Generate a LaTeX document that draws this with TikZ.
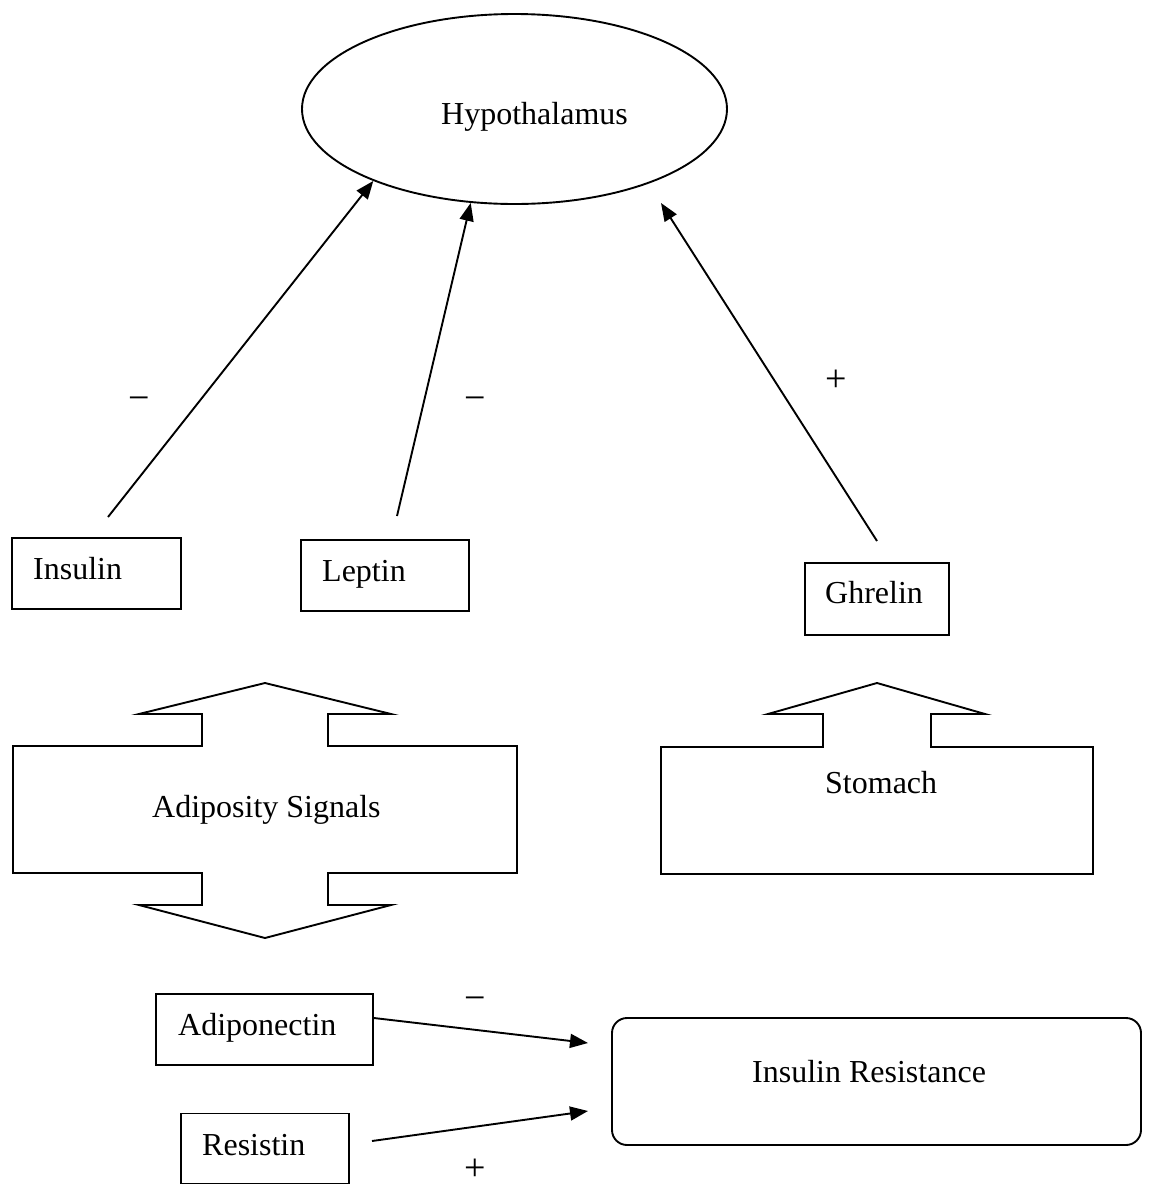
\documentclass[tikz,border=0pt]{standalone}
\usepackage{fontspec}
\setmainfont{Liberation Serif}
\usetikzlibrary{arrows.meta,shapes.geometric}
\begin{document}
\begin{tikzpicture}[x=1pt,y=-1pt,
  every node/.style={font=\fontsize{32}{38}\selectfont},
  box/.style={draw,line width=1.9pt,inner sep=0pt},
  txt/.style={anchor=base west,inner sep=0pt},
  sgn/.style={inner sep=0pt,font=\fontsize{38}{40}\selectfont},
  arr/.style={line width=1.9pt,-{Triangle[length=18pt,width=14pt]}},
  blk/.style={draw,line width=1.9pt,line join=miter}]
\useasboundingbox (0,0) rectangle (1150,1187);

% Hypothalamus
\node[box,ellipse,minimum width=425pt,minimum height=190pt] (hyp) at (514.5,109) {};
\node[txt] (hyptxt) at (441,124) {Hypothalamus};

% hormone boxes
\node[box,minimum width=169pt,minimum height=71pt] (insbox) at (96.5,573.5) {};
\node[txt] (instxt) at (33,579) {Insulin};
\node[box,minimum width=168pt,minimum height=71pt] (lepbox) at (385,575.5) {};
\node[txt] (leptxt) at (322,581) {Leptin};
\node[box,minimum width=144pt,minimum height=72pt] (ghrbox) at (877,599) {};
\node[txt] (ghrtxt) at (825,603) {Ghrelin};

% block arrows
\draw[blk] (13,746) -- (202,746) -- (202,714) -- (139,714) -- (265,683) -- (391,714)
  -- (328,714) -- (328,746) -- (517,746) -- (517,873) -- (328,873) -- (328,905)
  -- (391,905) -- (265,938) -- (139,905) -- (202,905) -- (202,873) -- (13,873) -- cycle;
\node[txt] (adiptxt) at (152,817) {Adiposity Signals};

\draw[blk] (661,747) -- (823,747) -- (823,714) -- (768,714) -- (877,683) -- (985,714)
  -- (931,714) -- (931,747) -- (1093,747) -- (1093,874) -- (661,874) -- cycle;
\node[txt] (stotxt) at (825,793) {Stomach};

% bottom boxes
\node[box,minimum width=217pt,minimum height=71pt] (adbox) at (264.5,1029.5) {};
\node[txt] (adtxt) at (178,1035) {Adiponectin};
\node[box,minimum width=168pt,minimum height=70pt] (resbox) at (265,1148.5) {};
\node[txt] (restxt) at (202,1155) {Resistin};
\node[box,rounded corners=15pt,minimum width=529pt,minimum height=127pt] (irbox) at (876.5,1081.5) {};
\node[txt] (irtxt) at (752,1082) {Insulin Resistance};

% connectors
\coordinate (insS) at (108,517);
\coordinate (lepS) at (397,516);
\coordinate (ghrS) at (877,541);
\coordinate (ghrE) at (661,203);
\draw[arr] (insS) -- (hyp.207);
\draw[arr] (lepS) -- (hyp.245);
\draw[arr] (ghrS) -- (ghrE);

\coordinate (adE) at (588,1043);
\coordinate (resS) at (372,1141);
\coordinate (resE) at (588,1111);
\draw[arr] ([yshift=11.5pt]adbox.east) -- (adE);
\draw[arr] (resS) -- (resE);

% signs
\node[sgn] (s1) at (139,404) {−};
\node[sgn] (s2) at (475,404) {−};
\node[sgn] (s3) at (836,381) {+};
\node[sgn] (s4) at (475,1004) {−};
\node[sgn] (s5) at (475,1170) {+};
\end{tikzpicture}
\end{document}
